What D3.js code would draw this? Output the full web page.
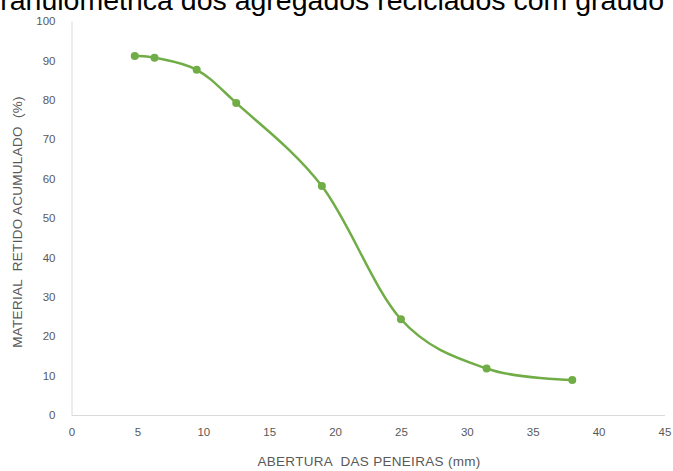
<!DOCTYPE html>
<html><head><meta charset="utf-8">
<script src="https://cdn.jsdelivr.net/npm/d3@7"></script>
<style>
html,body{margin:0;padding:0;background:#fff;overflow:hidden;}
svg{display:block;}
</style></head>
<body>
<svg id="c" width="673" height="471"></svg>
<script>
const titleText = "Curva granulométrica dos agregados reciclados com graúdo";
const xAxisTitle = "ABERTURA  DAS PENEIRAS (mm)";
const yAxisTitle = "MATERIAL  RETIDO ACUMULADO  (%)";
const sieveOpening = [4.8, 6.3, 9.5, 12.5, 19, 25, 31.5, 38];
const retainedPct = [91.1, 90.7, 87.6, 79.2, 58.1, 24.3, 11.8, 8.9];
const xTicks = [0, 5, 10, 15, 20, 25, 30, 35, 40, 45];
const yTicks = [0, 10, 20, 30, 40, 50, 60, 70, 80, 90, 100];

(function () {
const svg = d3.select("#c");
const mLeft = 71.5, mRight = 664.5, mTop = 21, mBottom = 415;
const x = d3.scaleLinear().domain([0, 45]).range([mLeft, mRight]);
const y = d3.scaleLinear().domain([0, 100]).range([mBottom, mTop]);
const font = "'Liberation Sans',Arial,sans-serif";
const textColor = "#595959";
const axisColor = "#d9d9d9";

svg.append("text")
  .attr("x", 664).attr("y", 10)
  .attr("text-anchor", "end")
  .attr("font-family", font)
  .attr("font-size", 28.5)
  .attr("fill", "#000")
  .text(titleText);

const xAxis = d3.axisBottom(x).tickValues(xTicks).tickSize(0).tickPadding(13).tickFormat(d3.format("d"));
const yAxis = d3.axisLeft(y).tickValues(yTicks).tickSize(0).tickPadding(16).tickFormat(d3.format("d"));

const gx = svg.append("g").attr("transform", `translate(0,${mBottom})`).call(xAxis);
const gy = svg.append("g").attr("transform", `translate(${mLeft},0)`).call(yAxis);
[gx, gy].forEach(g => {
  g.select(".domain").attr("stroke", axisColor).attr("stroke-width", 1);
  g.selectAll("text").attr("font-family", font).attr("font-size", 11.5).attr("fill", textColor);
});

svg.append("text")
  .attr("x", 369).attr("y", 466)
  .attr("text-anchor", "middle")
  .attr("xml:space", "preserve")
  .style("white-space", "pre")
  .attr("letter-spacing", 0.3)
  .attr("font-family", font).attr("font-size", 13.5).attr("fill", textColor)
  .text(xAxisTitle);
svg.append("text")
  .attr("transform", `translate(22,222) rotate(-90)`)
  .attr("text-anchor", "middle")
  .attr("xml:space", "preserve")
  .style("white-space", "pre")
  .attr("letter-spacing", 0.3)
  .attr("font-family", font).attr("font-size", 13.5).attr("fill", textColor)
  .text(yAxisTitle);

const pts = sieveOpening.map((d, i) => [d, retainedPct[i]]);
const line = d3.line().x(d => x(d[0])).y(d => y(d[1])).curve(d3.curveCardinal.tension(0));
const green = "#70ad47";
svg.append("path").datum(pts)
  .attr("d", line).attr("fill", "none")
  .attr("stroke", green).attr("stroke-width", 2.5).attr("stroke-linecap", "round");
svg.selectAll("circle.pt").data(pts).enter().append("circle")
  .attr("class", "pt")
  .attr("cx", d => x(d[0])).attr("cy", d => y(d[1])).attr("r", 4)
  .attr("fill", green);
})();
</script>
</body></html>
